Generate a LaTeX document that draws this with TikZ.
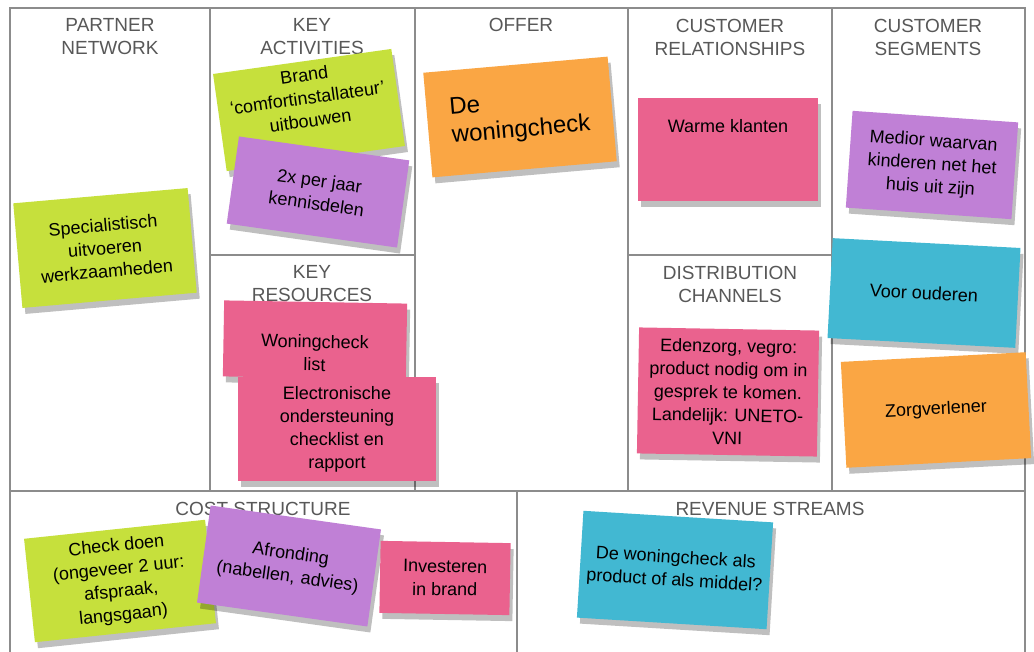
\documentclass[tikz,border=0pt]{standalone}
\usepackage{fontspec}
\setmainfont{Liberation Sans}
\usetikzlibrary{shadows}
\definecolor{headgray}{RGB}{88,88,88}
\definecolor{linegray}{RGB}{140,140,140}
\definecolor{stgreen}{RGB}{198,224,60}
\definecolor{stpurple}{RGB}{192,128,214}
\definecolor{stpink}{RGB}{234,98,142}
\definecolor{storange}{RGB}{250,166,68}
\definecolor{stblue}{RGB}{66,184,210}
\tikzset{
    head/.style = {align=center, text=headgray, font=\fontsize{19}{23}\selectfont},
    gridl/.style = {line width=2.5pt, draw=linegray},
    note/.style = {rectangle, inner sep=0pt, align=center, text=black, font=\fontsize{18}{23}\selectfont,
        drop shadow={shadow xshift=3pt, shadow yshift=-6pt, opacity=0.25, fill=black}},
    noteg/.style = {note, fill=stgreen},
    notep/.style = {note, fill=stpurple},
    noter/.style = {note, fill=stpink},
    noteo/.style = {note, fill=storange},
    noteb/.style = {note, fill=stblue}
}
\begin{document}
\begin{tikzpicture}[x=1pt,y=-1pt]
\useasboundingbox (0,0) rectangle (1034,652);
\fill[white] (0,0) rectangle (1034,652);
% canvas grid
\draw[gridl] (10,652) -- (10,8) -- (1025,8) -- (1025,652);
\draw[gridl] (10,491) -- (1025,491);
\draw[gridl] (210,8) -- (210,491);
\draw[gridl] (415,8) -- (415,491);
\draw[gridl] (628,8) -- (628,491);
\draw[gridl] (832,8) -- (832,491);
\draw[gridl] (210,255) -- (415,255);
\draw[gridl] (628,255) -- (832,255);
\draw[gridl] (517,491) -- (517,652);
%
\node[head] at (110, 37) (pn) {PARTNER\\NETWORK};
\node[head] at (312, 37) (ka) {KEY\\ACTIVITIES};
\node[head] at (521, 25) (of) {OFFER};
\node[head] at (730, 37) (cr) {CUSTOMER\\RELATIONSHIPS};
\node[head] at (928, 37) (cs) {CUSTOMER\\SEGMENTS};
\node[head] at (312, 284) (kr) {KEY\\RESOURCES};
\node[head] at (730, 284) (dc) {DISTRIBUTION\\CHANNELS};
\node[head] at (263, 509) (cost) {COST STRUCTURE};
\node[head] at (770, 509) (rev) {REVENUE STREAMS};
%
\node[noteg, rotate=5, minimum width=175, minimum height=105] at (105, 248) (spec) {Specialistisch\\uitvoeren\\werkzaamheden};
\node[noteg, rotate=8, minimum width=180, minimum height=98, text depth=25] at (309, 110) (brand) {Brand\\`comfortinstallateur'\\uitbouwen};
\node[notep, rotate=-8, minimum width=172, minimum height=88] at (318, 192) (kennis) {2x per jaar\\kennisdelen};
\node[noteo, rotate=5, minimum width=185, minimum height=105, align=left, font=\fontsize{24}{28}\selectfont] at (520, 117) (check) {De\\woningcheck};
\node[noter, minimum width=180, minimum height=103, text depth=48] at (728, 150) (warme) {Warme klanten};
\node[notep, rotate=-4, minimum width=166, minimum height=97] at (932, 165) (medior) {Medior waarvan\\kinderen net het\\huis uit zijn};
\node[noteb, rotate=-3, minimum width=188, minimum height=100] at (924, 293) (ouder) {Voor ouderen};
\node[noteo, rotate=3, minimum width=185, minimum height=106] at (936, 410) (zorg) {Zorgverlener};
\node[noter, rotate=-1, minimum width=183, minimum height=76, text height=62] at (315, 340) (wlist) {Woningcheck\\list};
\node[noter, minimum width=198, minimum height=103] at (337, 429) (elec) {Electronische\\ondersteuning\\checklist en\\rapport};
\node[noter, rotate=-1, minimum width=180, minimum height=126] at (728, 392) (eden) {Edenzorg, vegro:\\product nodig om in\\gesprek te komen.\\Landelijk: UNETO-\\VNI};
\node[noteg, rotate=6, minimum width=182, minimum height=104] at (120, 581) (doen) {Check doen\\(ongeveer 2 uur:\\afspraak,\\langsgaan)};
\node[notep, rotate=-8, minimum width=172, minimum height=98] at (289, 566) (afr) {Afronding\\(nabellen,\hspace{6pt}advies)};
\node[noter, rotate=-1, minimum width=130, minimum height=72] at (445, 578) (inv) {Investeren\\in brand};
\node[noteb, rotate=-3.5, minimum width=190, minimum height=107] at (675, 570) (revn) {De woningcheck als\\product of als middel?};
\end{tikzpicture}
\end{document}
